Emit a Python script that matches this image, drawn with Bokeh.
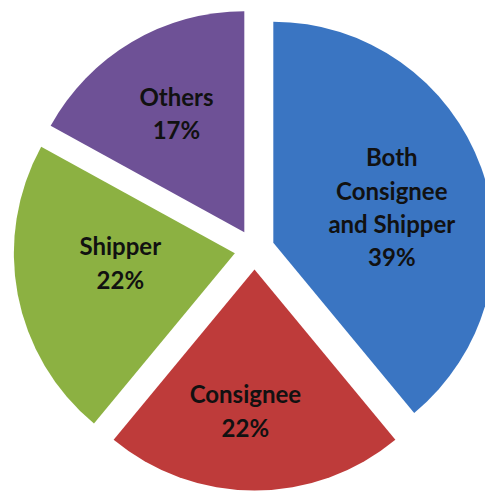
import math
from bokeh.plotting import figure
from bokeh.models import Range1d, ColumnDataSource
from bokeh.core.properties import value
from bokeh.embed import file_html
from bokeh.resources import INLINE

# data
categories = ["Both\nConsignee\nand Shipper", "Consignee", "Shipper", "Others"]
percents = [39, 22, 22, 17]
colors = ["#3a75c2", "#be3b3a", "#8cb142", "#6e5196"]

# layout constants (page pixel units; y = -screen y)
cx, cy = 254.0, -249.0
radius = 221.0
explode = 20.0
label_frac = [0.56, 0.64, 0.52, 0.62]      # label distance / radius per slice
label_turn = [-3.0, -3.7, -6.2, -0.9]       # degrees from mid angle per slice

total = float(sum(percents))
xs, ys, starts, ends, lx, ly, texts = [], [], [], [], [], [], []
ang = math.pi / 2
for i, (cat, v) in enumerate(zip(categories, percents)):
    sweep = 2 * math.pi * v / total
    a0 = ang
    a1 = ang - sweep
    mid = (a0 + a1) / 2
    ox = cx + explode * math.cos(mid)
    oy = cy + explode * math.sin(mid)
    xs.append(ox); ys.append(oy)
    starts.append(a0); ends.append(a1)
    la = mid + math.radians(label_turn[i])
    lx.append(ox + label_frac[i] * radius * math.cos(la))
    ly.append(oy + label_frac[i] * radius * math.sin(la))
    texts.append(f"{cat}\n{v}%")
    ang = a1

src = ColumnDataSource(dict(x=xs, y=ys, start=starts, end=ends, color=colors))
lsrc = ColumnDataSource(dict(x=lx, y=ly, text=texts))

W, H = 485, 492
p = figure(width=W, height=H, output_backend="svg", toolbar_location=None,
           x_range=Range1d(0, W), y_range=Range1d(-H, 0),
           min_border=0)
p.axis.visible = False
p.grid.visible = False
p.outline_line_color = None
p.background_fill_color = "white"

p.wedge(x="x", y="y", radius=radius, start_angle="start", end_angle="end",
        direction="clock", fill_color="color", line_color=None, source=src)

p.text(x="x", y="y", text="text", source=lsrc, text_align="center",
       text_baseline="middle", text_font=value("Lato"), text_font_style="bold",
       text_font_size="24px", text_line_height=1.15, text_color="#111111")

open("out.html", "w").write(file_html(p, INLINE))
